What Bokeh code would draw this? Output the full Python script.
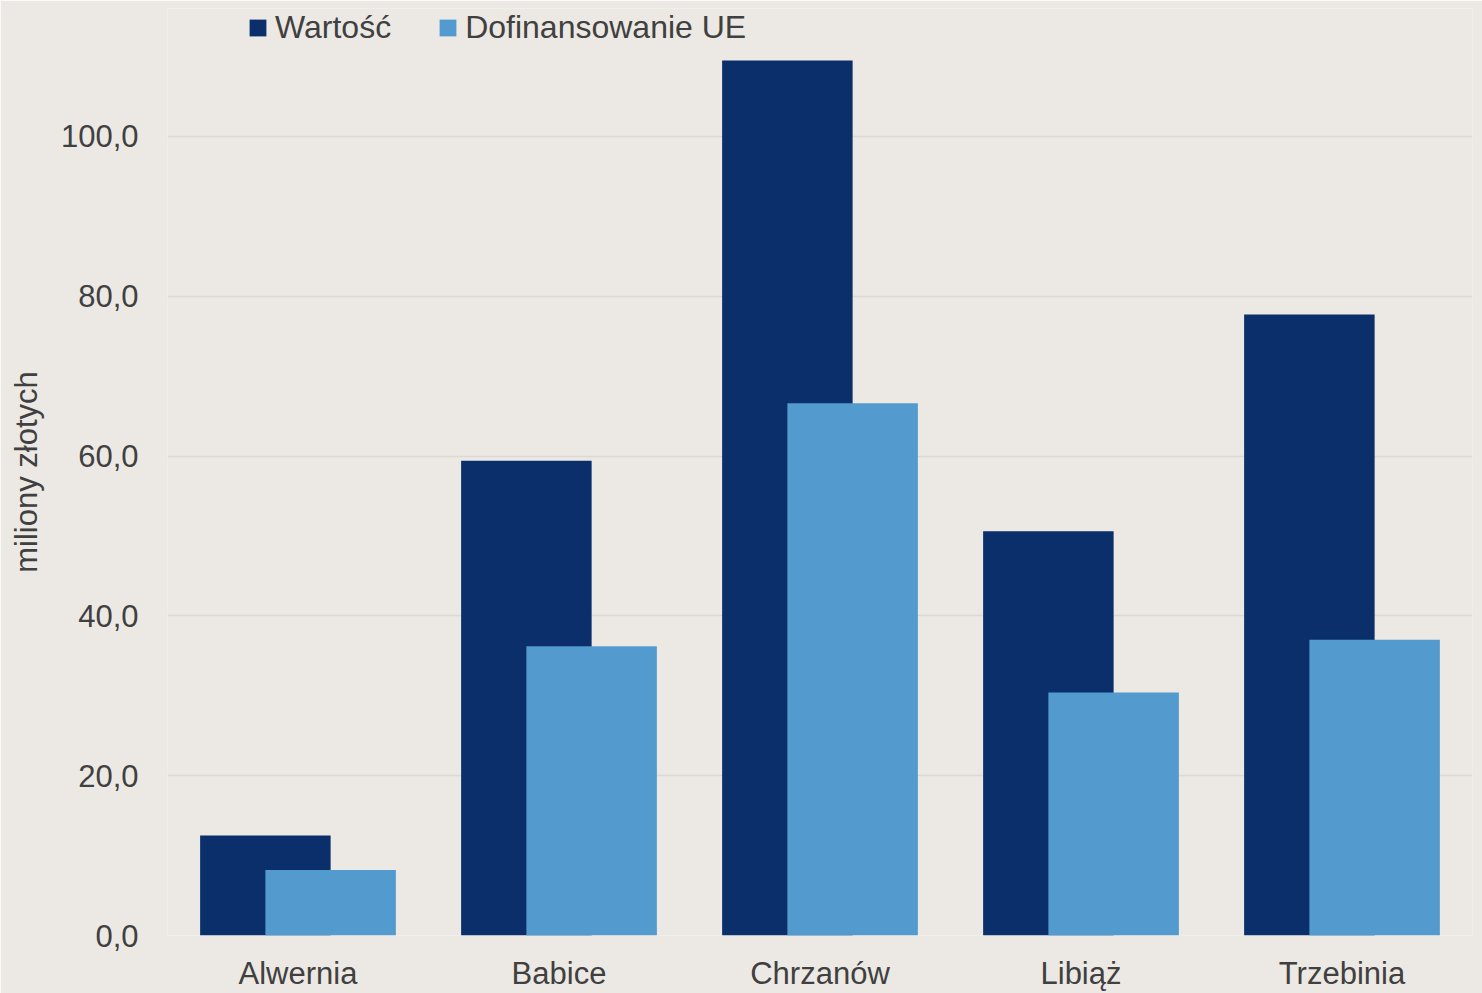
from bokeh.plotting import figure
from bokeh.models import FactorRange, Range1d, FixedTicker, Legend, LegendItem, ColumnDataSource
from bokeh.transform import dodge
from bokeh.embed import file_html
from bokeh.resources import INLINE

categories = ["Alwernia", "Babice", "Chrzanów", "Libiąż", "Trzebinia"]
wartosc = [12.5, 59.4, 109.5, 50.6, 77.7]
dofinansowanie = [8.2, 36.2, 66.6, 30.4, 37.0]
y_ticks = [0, 20, 40, 60, 80, 100]
y_tick_labels = ["0,0", "20,0", "40,0", "60,0", "80,0", "100,0"]
series_names = ["Wartość", "Dofinansowanie UE"]

DARK = "#0a2f6a"
LIGHT = "#539bce"
BG = "#ece9e4"
TXT = "#404040"
FONT = "Liberation Sans"

src = ColumnDataSource(dict(cat=categories, w=wartosc, d=dofinansowanie))

p = figure(width=1482, height=993, x_range=FactorRange(*categories, range_padding=0),
           y_range=Range1d(0, 116), output_backend="svg", toolbar_location=None,
           min_border_left=167, min_border_right=10, min_border_top=8, min_border_bottom=55)
p.background_fill_color = BG
p.border_fill_color = BG
p.outline_line_color = None

r1 = p.vbar(x=dodge("cat", -0.125, range=p.x_range), top="w", width=0.5, source=src,
            fill_color=DARK, line_color=None)
r2 = p.vbar(x=dodge("cat", 0.125, range=p.x_range), top="d", width=0.5, source=src,
            fill_color=LIGHT, line_color=None)

p.xgrid.grid_line_color = None
p.ygrid.grid_line_color = "#dcd9d4"
p.ygrid.grid_line_width = 1.5
p.yaxis.ticker = FixedTicker(ticks=y_ticks)
p.yaxis.major_label_overrides = {t: l for t, l in zip(y_ticks, y_tick_labels)}

for ax in (p.xaxis, p.yaxis):
    ax.axis_line_color = None
    ax.major_tick_line_color = None
    ax.minor_tick_line_color = None
    ax.major_tick_out = 0
    ax.major_tick_in = 0
    ax.major_label_text_font = FONT
    ax.major_label_text_color = TXT

p.xaxis.major_label_text_font_size = "31px"
p.xaxis.major_label_standoff = 20
p.yaxis.major_label_text_font_size = "31px"
p.yaxis.major_label_standoff = 29
p.yaxis.axis_label = "miliony złotych"
p.yaxis.axis_label_text_font = FONT
p.yaxis.axis_label_text_font_size = "31px"
p.yaxis.axis_label_text_font_style = "normal"
p.yaxis.axis_label_text_color = TXT
p.yaxis.axis_label_standoff = 14

legend = Legend(items=[LegendItem(label=series_names[0], renderers=[r1]),
                       LegendItem(label=series_names[1], renderers=[r2])],
                orientation="horizontal", location=(80, 889))
legend.background_fill_alpha = 0
legend.border_line_color = None
legend.padding = 0
legend.margin = 0
legend.spacing = 46
legend.glyph_width = 21
legend.glyph_height = 21
legend.label_standoff = 7
legend.label_text_font = FONT
legend.label_text_font_size = "32px"
legend.label_text_color = TXT
p.add_layout(legend)

open("out.html", "w").write(file_html(p, INLINE))
